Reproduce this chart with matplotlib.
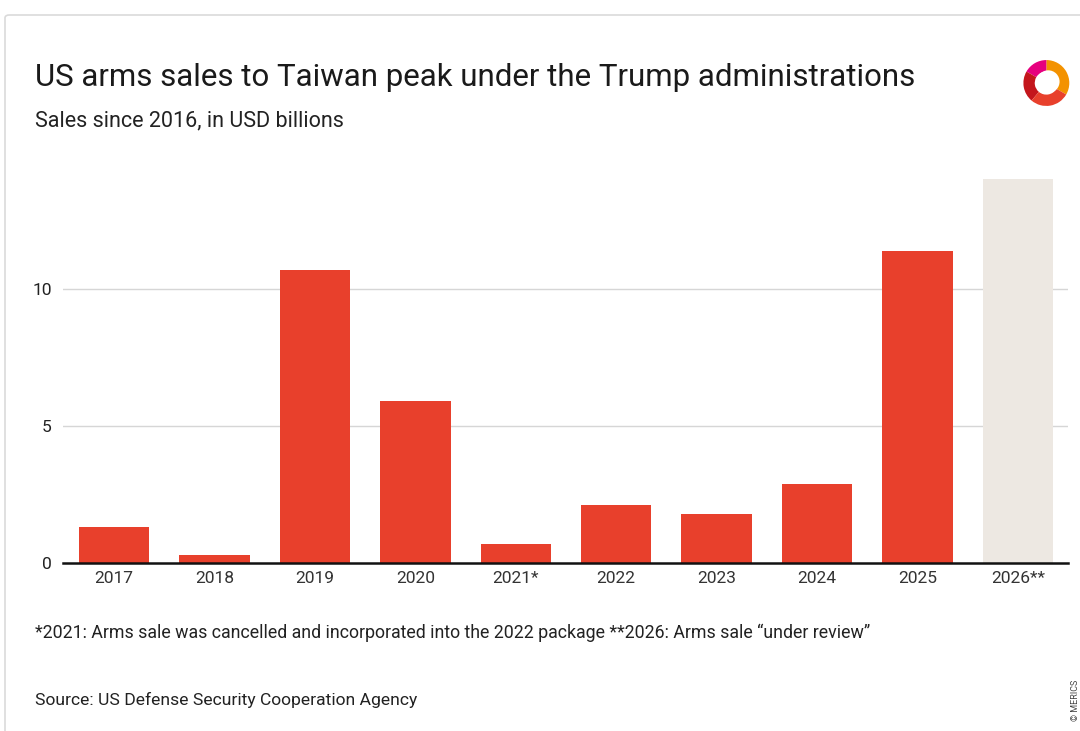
import matplotlib
matplotlib.use("Agg")
import matplotlib.pyplot as plt
from matplotlib.patches import FancyBboxPatch, Wedge, Circle
import numpy as np

plt.rcParams['font.family'] = ['Roboto', 'DejaVu Sans']

years = ["2017", "2018", "2019", "2020", "2021*", "2022", "2023", "2024", "2025", "2026**"]
values = [1.3, 0.3, 10.7, 5.9, 0.7, 2.1, 1.8, 2.9, 11.4, 14.0]
colors = ["#E8402C"] * 9 + ["#EDE8E2"]
yticks = [0, 5, 10]

W, H = 1080, 731
fig = plt.figure(figsize=(W / 100, H / 100), dpi=100)
fig.patch.set_facecolor("white")

# outer frame
frame = FancyBboxPatch((5 / W, -0.05), 1.2, (H - 15) / H + 0.05,
                       boxstyle="round,pad=0,rounding_size=0.004",
                       transform=fig.transFigure, facecolor="none",
                       edgecolor="#DADADA", linewidth=1.2, clip_on=False, zorder=-5)
fig.patches.append(frame)

ax = fig.add_axes([63 / W, 1 - 563 / H, (1068 - 63) / W, (563 - 175) / H])
x = np.arange(len(years))
ax.bar(x, values, width=0.7, color=colors, zorder=3)
ax.set_xlim(-0.51, 9.5)
ax.set_ylim(0, 14.16)
ax.set_yticks(yticks)
ax.set_yticklabels([str(t) for t in yticks], fontsize=12.5, color="#222222")
ax.set_xticks(x)
ax.set_xticklabels(years, fontsize=12.5, color="#333333")
ax.tick_params(axis="both", length=0, pad=6)
ax.tick_params(axis="y", pad=8)
for s in ["top", "right", "left"]:
    ax.spines[s].set_visible(False)
ax.spines["bottom"].set_color("#111111")
ax.spines["bottom"].set_linewidth(1.8)
ax.spines["bottom"].set_zorder(4)
for t in [5, 10]:
    ax.axhline(t, color="#D6D6D6", linewidth=1, zorder=1)
ax.set_facecolor("none")

fig.text(35 / W, 1 - 78 / H, "US arms sales to Taiwan peak under the Trump administrations",
         fontsize=22.5, color="#1A1A1A", va="center", ha="left")
fig.text(35 / W, 1 - 121 / H, "Sales since 2016, in USD billions",
         fontsize=15.5, color="#222222", va="center", ha="left")
fig.text(35 / W, 1 - 633 / H,
         "*2021: Arms sale was cancelled and incorporated into the 2022 package **2026: Arms sale \u201cunder review\u201d",
         fontsize=12.8, color="#222222", va="center", ha="left")
fig.text(35 / W, 1 - 700 / H, "Source: US Defense Security Cooperation Agency",
         fontsize=12.6, color="#222222", va="center", ha="left")
fig.text(1076 / W, 1 - 700 / H, "\u00a9 MERICS", fontsize=6.5, color="#444444",
         rotation=90, va="center", ha="center")

# logo approximation
lax = fig.add_axes([1018 / W, 1 - 110 / H, 54 / W, 54 / H])
lax.set_xlim(-1, 1)
lax.set_ylim(-1, 1)
lax.set_aspect("equal")
lax.axis("off")
segs = [(-30, 90, "#F39200"), (90, 150, "#E6007E"), (150, 230, "#C4161C"), (230, 330, "#E8402C")]
for a0, a1, c in segs:
    lax.add_patch(Wedge((0.05, 0.0), 0.85, a0, a1, width=0.42, facecolor=c, edgecolor="none"))
lax.add_patch(Circle((0.12, 0.05), 0.42, facecolor="white", edgecolor="none"))

fig.savefig("out.png", dpi=100, facecolor="white")
